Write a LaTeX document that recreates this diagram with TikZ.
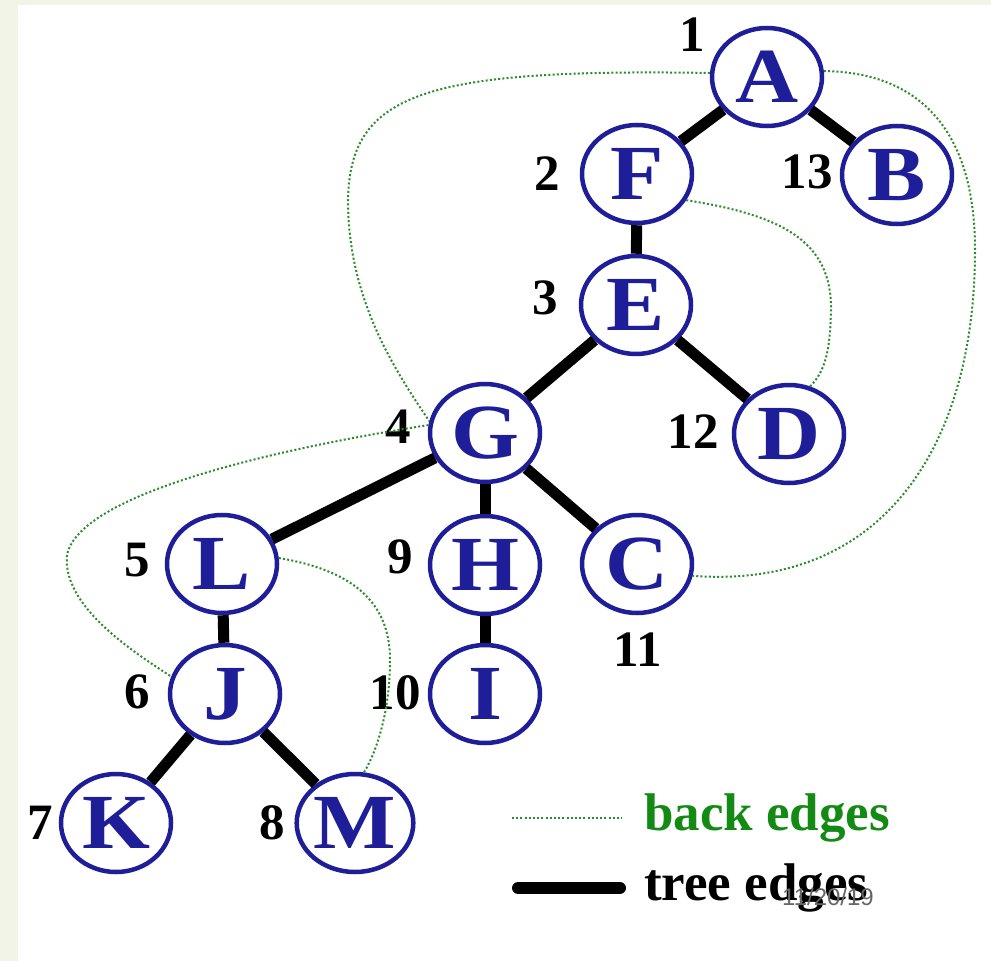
\documentclass[tikz,border=0pt]{standalone}
\usepackage{fontspec}
\setmainfont{Liberation Serif}
\newfontfamily\vtxfont[FakeStretch=1.12]{Liberation Serif}
\newfontfamily\datefont{Liberation Sans}
\definecolor{mNodeBlue}{HTML}{1E1E98}
\definecolor{mBackGreen}{HTML}{2A8C2A}
\definecolor{mTextGreen}{HTML}{138A13}
\definecolor{mSlideBg}{HTML}{F1F4E6}
\usetikzlibrary{positioning,arrows.meta,calc,shapes.geometric}

\begin{document}
\begin{tikzpicture}[x=1pt, y=-1pt,
  vtx/.style={ellipse, draw=mNodeBlue, line width=4.5pt, fill=white, text=mNodeBlue, minimum width=110pt, minimum height=98pt, inner sep=0pt, font=\vtxfont\fontsize{78}{78}\selectfont\bfseries},
  numlab/.style={font=\fontsize{51}{51}\selectfont\bfseries, inner sep=0pt},
  treeedge/.style={line width=11pt},
  backedge/.style={mBackGreen, line width=2pt, dash pattern=on 2pt off 2.2pt},
  legtext/.style={anchor=base west, inner sep=0pt, font=\fontsize{53}{53}\selectfont\bfseries}]
% slide background
\fill[mSlideBg] (0,0) rectangle (991,961);
\fill[white] (18,5) rectangle (991,961);
\useasboundingbox (0,0) rectangle (991,961);

% vertices
\node[vtx] (A) at (767,77) {A};
\node[vtx] (F) at (637,174) {F};
\node[vtx] (B) at (897,175) {B};
\node[vtx] (E) at (636,305) {E};
\node[vtx] (G) at (485,433) {G};
\node[vtx] (D) at (789,434) {D};
\node[vtx] (L) at (222,564) {L};
\node[vtx] (H) at (485,565) {H};
\node[vtx] (C) at (637,564) {C};
\node[vtx] (J) at (225,694) {J};
\node[vtx] (I) at (485,694) {I};
\node[vtx] (K) at (116,823) {K};
\node[vtx] (M) at (355,823) {M};

% visit numbers
\node[numlab] (n1) at (692,35) {1};
\node[numlab] (n2) at (547,174) {2};
\node[numlab] (n3) at (545,298) {3};
\node[numlab] (n4) at (398,427) {4};
\node[numlab] (n5) at (137,560) {5};
\node[numlab] (n6) at (137,692) {6};
\node[numlab] (n7) at (40,823) {7};
\node[numlab] (n8) at (272,823) {8};
\node[numlab] (n9) at (400,557) {9};
\node[numlab] (n10) at (395,693) {10};
\node[numlab] (n11) at (638,650) {11};
\node[numlab] (n12) at (693,432) {12};
\node[numlab] (n13) at (807,172) {13};

% tree edges
\foreach \u/\v in {A/F, A/B, F/E, E/G, E/D, G/L, G/H, G/C, L/J, H/I, J/K, J/M}
  \draw[treeedge] (\u) -- (\v);

% back edges
\draw[backedge] (A.176) .. controls (420,68) and (350,95) .. (348,200)
  .. controls (348,300) and (395,370) .. (G.168);
\draw[backedge] (A.6) .. controls (900,72) and (975,110) .. (975,250)
  .. controls (975,450) and (880,590) .. (C.-12);
\draw[backedge] (F.-28) .. controls (780,215) and (832,240) .. (831,310)
  .. controls (830,350) and (826,370) .. (D.66);
\draw[backedge] (G.172) .. controls (300,445) and (80,490) .. (67,555)
  .. controls (62,605) and (130,650) .. (J.162);
\draw[backedge] (L.6) .. controls (350,570) and (390,600) .. (390,660)
  .. controls (390,720) and (372,760) .. (M.80);

% legend
\coordinate (bk1) at (512,818);
\coordinate (bk2) at (622,818);
\draw[backedge] (bk1) -- (bk2);
\node[legtext, text=mTextGreen] (bktext) at (644,830) {back edges};
\coordinate (tr1) at (518,888);
\coordinate (tr2) at (620,888);
\draw[line width=12pt, line cap=round] (tr1) -- (tr2);
\node[legtext] (trtext) at (644,900) {tree edges};
\node[text=black!60, font=\datefont\fontsize{24}{24}\selectfont, inner sep=0pt] (date) at (828,897) {11/20/19};
\end{tikzpicture}
\end{document}
